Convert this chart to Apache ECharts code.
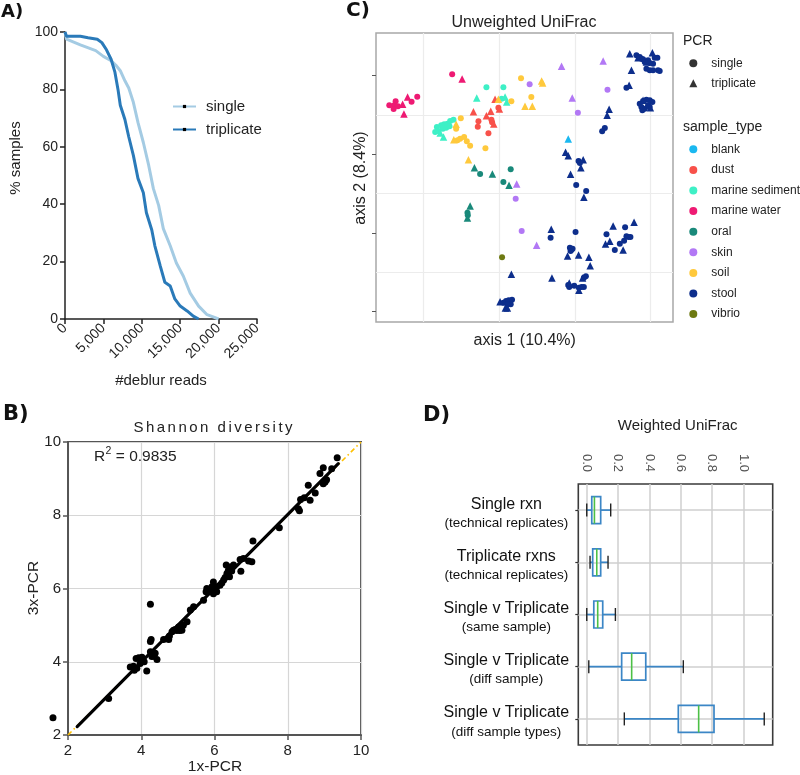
<!DOCTYPE html>
<html><head><meta charset="utf-8">
<script src="https://cdn.jsdelivr.net/npm/echarts@6/dist/echarts.min.js"></script>
<style>html,body{margin:0;padding:0;background:#fff}#c{width:800px;height:775px}</style>
</head><body><div id="c"></div>
<script>
// ---------------- Panel A: % samples vs #deblur reads ----------------
const aSingle = [[0,100],[200,97.5],[2000,95.5],[4000,93.5],[5000,91.5],[6000,90],[6600,88.5],[7200,86.5],[7800,83],[8300,80.5],[8900,75.5],[9500,68.5],[10200,61.5],[10900,53.5],[11500,45.5],[12200,39.5],[12800,31.5],[13700,25.5],[14500,19.5],[15400,15],[16300,9],[17400,4.5],[18500,1.5],[19200,0.8],[20000,0]];
const aTriplicate = [[0,100],[200,98.5],[2000,98.5],[3000,98],[4200,97.5],[4800,96.3],[5400,93.8],[6000,90.5],[6500,86],[6900,80],[7200,74.5],[7800,69.5],[8300,63.5],[8900,57],[9500,49],[10200,44],[10600,37],[11300,31],[11700,25.5],[12400,18.5],[13000,12.8],[13700,11.5],[14300,7],[15000,4.5],[15900,2.8],[16700,1],[17400,0]];
const aNames = ['single','triplicate'];

// ---------------- Panel B: Shannon diversity ----------------
const bPoints = [[1.59,2.47],[3.11,3.00],[3.70,3.86],[3.79,3.88],[3.86,4.09],[3.93,4.11],[3.97,3.95],[4.02,4.12],[3.88,3.82],[4.08,4.00],[4.15,3.75],[3.81,3.77],[3.97,4.09],[4.34,4.15],[4.29,4.14],[4.38,4.23],[4.43,4.06],[4.25,4.27],[4.25,5.57],[4.25,4.55],[4.27,4.61],[4.61,4.61],[4.75,4.61],[4.77,4.70],[4.84,4.82],[4.88,4.86],[4.93,4.88],[4.97,4.85],[5.05,4.85],[5.11,4.86],[5.02,4.95],[5.15,5.00],[5.25,5.09],[5.34,5.41],[5.43,5.50],[5.70,5.68],[5.77,5.91],[5.79,6.00],[5.84,5.91],[5.88,5.95],[5.93,6.05],[5.97,6.18],[5.97,5.86],[6.06,5.91],[6.06,6.05],[6.15,6.09],[6.20,6.15],[6.25,6.23],[6.29,6.30],[6.32,6.64],[6.38,6.50],[6.41,6.32],[6.43,6.59],[6.47,6.48],[6.52,6.64],[6.34,6.41],[6.70,6.79],[6.79,6.82],[6.93,6.75],[7.02,6.73],[6.72,6.47],[7.05,7.30],[7.77,7.66],[8.29,8.18],[8.32,8.12],[8.35,8.43],[8.45,8.48],[8.61,8.41],[8.56,8.82],[8.75,8.61],[8.97,8.86],[9.02,8.91],[9.06,8.97],[8.88,9.14],[8.97,9.30],[9.20,9.27],[9.35,9.57]];
const bFit = [[2.25,2.23],[9.38,9.41]];
const bIdentity = [[2,2],[10,10]];
const bR2 = '0.9835';

// ---------------- Panel C: Unweighted UniFrac PCoA ----------------
const cTypeNames = ['blank','dust','marine sediment','marine water','oral','skin','soil','stool','vibrio'];
const cBlankSingle = [];
const cBlankTriplicate = [[0.132,0.115]];
const cDustSingle = [[-0.138,0.168],[-0.140,0.152],[-0.108,0.132],[-0.099,0.173],[-0.097,0.165],[-0.078,0.209]];
const cDustTriplicate = [[-0.153,0.197],[-0.088,0.234],[-0.114,0.185],[-0.101,0.198],[-0.092,0.160],[-0.075,0.205]];
const cMarineSedSingle = [[-0.114,0.270],[-0.063,0.270],[-0.068,0.236],[-0.263,0.151],[-0.258,0.139],[-0.250,0.156],[-0.241,0.159],[-0.231,0.161],[-0.223,0.169],[-0.213,0.173],[-0.235,0.149],[-0.245,0.146],[-0.225,0.153],[-0.268,0.136]];
const cMarineSedTriplicate = [[-0.243,0.121],[-0.253,0.133],[-0.143,0.238],[-0.058,0.241],[-0.053,0.226]];
const cMarineWaterSingle = [[-0.406,0.216],[-0.391,0.216],[-0.387,0.228],[-0.393,0.205],[-0.380,0.213],[-0.339,0.227],[-0.322,0.242],[-0.217,0.309]];
const cMarineWaterTriplicate = [[-0.366,0.219],[-0.351,0.241],[-0.362,0.190],[-0.187,0.295]];
const cOralSingle = [[-0.133,0.010],[-0.063,-0.014],[-0.041,0.024],[-0.171,-0.106],[-0.170,-0.114]];
const cOralTriplicate = [[-0.150,0.029],[-0.096,0.010],[-0.046,-0.024],[-0.163,-0.086],[-0.171,-0.122]];
const cSkinSingle = [[0.016,0.279],[0.250,0.263],[0.161,0.194],[-0.026,-0.064],[-0.008,-0.161]];
const cSkinTriplicate = [[0.112,0.333],[0.237,0.349],[0.144,0.238],[-0.023,-0.020],[0.037,-0.204]];
const cSoilSingle = [[-0.010,0.297],[0.021,0.241],[-0.039,0.228],[-0.191,0.177],[-0.205,0.146],[-0.173,0.108],[-0.163,0.095],[-0.117,0.087],[-0.193,0.116],[-0.181,0.121],[-0.201,0.111]];
const cSoilTriplicate = [[0.052,0.289],[0.055,0.283],[0.002,0.213],[0.024,0.213],[-0.205,0.159],[-0.212,0.113],[-0.168,0.053],[-0.078,0.234]];
const cStoolSingle = [[0.337,0.366],[0.347,0.361],[0.357,0.354],[0.372,0.351],[0.377,0.343],[0.387,0.341],[0.392,0.359],[0.400,0.359],[0.367,0.326],[0.377,0.321],[0.387,0.321],[0.402,0.321],[0.407,0.319],[0.352,0.356],[0.362,0.346],[0.307,0.269],[0.347,0.221],[0.357,0.229],[0.367,0.233],[0.377,0.231],[0.385,0.226],[0.352,0.211],[0.362,0.206],[0.372,0.216],[0.377,0.211],[0.355,0.201],[0.242,0.148],[0.234,0.138],[0.163,0.049],[0.167,0.043],[0.156,-0.023],[0.186,-0.041],[0.079,-0.181],[0.154,-0.164],[0.137,-0.211],[0.142,-0.217],[0.145,-0.214],[0.139,-0.221],[0.247,-0.171],[0.303,-0.150],[0.300,-0.190],[0.287,-0.199],[0.272,-0.218],[0.307,-0.177],[0.313,-0.179],[0.319,-0.179],[0.185,-0.297],[0.179,-0.301],[0.132,-0.323],[0.135,-0.329],[0.150,-0.325],[0.164,-0.331],[0.172,-0.329],[0.179,-0.329],[-0.063,-0.376],[-0.055,-0.371],[-0.047,-0.369],[-0.037,-0.367],[-0.041,-0.381],[-0.051,-0.381]];
const cStoolTriplicate = [[0.317,0.371],[0.385,0.374],[0.322,0.321],[0.342,0.359],[0.367,0.346],[0.315,0.276],[0.379,0.209],[0.357,0.231],[0.255,0.204],[0.249,0.186],[0.124,0.075],[0.132,0.065],[0.139,0.009],[0.177,0.053],[0.170,0.029],[0.179,-0.060],[0.081,-0.156],[0.130,-0.236],[0.163,-0.233],[0.194,-0.240],[0.198,-0.265],[0.267,-0.146],[0.330,-0.135],[0.257,-0.192],[0.244,-0.200],[0.297,-0.218],[-0.039,-0.291],[0.083,-0.302],[0.175,-0.302],[0.135,-0.317],[0.164,-0.339],[-0.073,-0.373],[-0.057,-0.392],[-0.051,-0.392]];
const cVibrioSingle = [[-0.067,-0.240]];
const cVibrioTriplicate = [];
const cPcrNames = ['single','triplicate'];

// ---------------- Panel D: Weighted UniFrac boxplots ----------------
const dLabels = ['Single rxn\n(technical replicates)','Triplicate rxns\n(technical replicates)','Single v Triplicate\n(same sample)','Single v Triplicate\n(diff sample)','Single v Triplicate\n(diff sample types)'];
const dLow    = [0.000, 0.021, 0.000, 0.013, 0.240];
const dQ1     = [0.032, 0.038, 0.045, 0.223, 0.585];
const dMedian = [0.049, 0.064, 0.070, 0.287, 0.715];
const dQ3     = [0.089, 0.089, 0.102, 0.377, 0.813];
const dHigh   = [0.153, 0.136, 0.183, 0.617, 1.134];

// ---------------- styles ----------------
const FONT = '"Liberation Sans", Arial, sans-serif';
const aColors = ['#a4cbe3', '#2a7ab9'];
const cColors = {'blank':'#1ab8f0','dust':'#f8514a','marine sediment':'#3ef0c6','marine water':'#ee1a73','oral':'#19897a','skin':'#b278f5','soil':'#ffc93c','stool':'#0d2e8c','vibrio':'#6e7a12'};
const cSets = [
  ['blank', cBlankSingle, cBlankTriplicate],
  ['dust', cDustSingle, cDustTriplicate],
  ['marine sediment', cMarineSedSingle, cMarineSedTriplicate],
  ['marine water', cMarineWaterSingle, cMarineWaterTriplicate],
  ['oral', cOralSingle, cOralTriplicate],
  ['skin', cSkinSingle, cSkinTriplicate],
  ['soil', cSoilSingle, cSoilTriplicate],
  ['stool', cStoolSingle, cStoolTriplicate],
  ['vibrio', cVibrioSingle, cVibrioTriplicate]
];
const boxBlue = '#3b86c6', medGreen = '#4cc046';

function fmtThousands(v){ return String(v).replace(/\B(?=(\d{3})+(?!\d))/g, ','); }
function txt(text, x, y, font, opts){
  opts = opts || {};
  return {type:'text', x:x, y:y, rotation: opts.rot || 0, z: 10,
    style:{text:text, x:0, y:0, font:font, fill: opts.fill || '#222',
      align: opts.align || 'center', textAlign: opts.align || 'center',
      verticalAlign:'middle', textVerticalAlign:'middle'}};
}
const spaced = 'Shannon diversity'.split('').join('\u2006');

const hidden = {show:false};
const option = {
  animation:false,
  backgroundColor:'#fff',
  textStyle:{fontFamily:FONT},
  grid:[
    {left:65, top:32, width:192, height:287},                 // 0 A
    {left:68, top:442, width:293, height:293, show:true, borderColor:'#555', borderWidth:2}, // 1 B
    {left:376, top:33, width:297, height:289, show:true, borderColor:'#a8a8a8', borderWidth:1.5}, // 2 C
    {left:423.3, top:33, width:227.4, height:289},             // 3 C vertical grid lines
    {left:376, top:115, width:297, height:157.3},              // 4 C horizontal grid lines
    {left:376, top:75, width:297, height:236.7},               // 5 C y ticks
    {left:578.3, top:484, width:194.4, height:261, show:true, borderColor:'#3a3a3a', borderWidth:1.6}, // 6 D
    {left:586.7, top:484, width:156.6, height:261},            // 7 D x ticks / vertical lines
    {left:578.3, top:510.1, width:194.4, height:208.8}         // 8 D horizontal lines / y ticks
  ],
  xAxis:[
    {gridIndex:0, type:'value', min:0, max:25000, interval:5000,
      axisLine:{lineStyle:{color:'#222', width:1.5}}, axisTick:{length:5, lineStyle:{color:'#222', width:1.5}},
      axisLabel:{rotate:45, fontSize:14, color:'#222', margin:7, formatter:fmtThousands}, splitLine:{show:false}},
    {gridIndex:1, type:'value', min:2, max:10, interval:2,
      axisLine:{lineStyle:{color:'#555', width:2}}, axisTick:{length:5, lineStyle:{color:'#555', width:1.5}},
      axisLabel:{fontSize:15, color:'#222', margin:8}, splitLine:{lineStyle:{color:'#d6d6d6', width:1.2}}},
    {gridIndex:2, type:'value', min:-0.446, max:0.447, show:false},
    {gridIndex:3, type:'value', min:0, max:3, interval:1, axisLine:hidden, axisTick:hidden, axisLabel:hidden,
      splitLine:{show:true, lineStyle:{color:'#ececec', width:1.2}}},
    {gridIndex:4, type:'value', show:false},
    {gridIndex:5, type:'value', show:false},
    {gridIndex:6, type:'value', min:-0.054, max:1.188, show:false},
    {gridIndex:7, type:'value', position:'top', min:0, max:1, interval:0.2, axisLine:hidden, axisTick:hidden,
      axisLabel:{rotate:-90, fontSize:13, color:'#555', margin:12, formatter:function(v){return v.toFixed(1);}},
      splitLine:{show:true, lineStyle:{color:'#cfcfcf', width:1.5}}},
    {gridIndex:8, type:'value', show:false}
  ],
  yAxis:[
    {gridIndex:0, type:'value', min:0, max:100, interval:20,
      axisLine:{show:true, lineStyle:{color:'#222', width:1.5}}, axisTick:{show:true, length:5, lineStyle:{color:'#222', width:1.5}},
      axisLabel:{fontSize:14, color:'#222', margin:7}, splitLine:{show:false}},
    {gridIndex:1, type:'value', min:2, max:10, interval:2,
      axisLine:{show:true, lineStyle:{color:'#555', width:2}}, axisTick:{show:true, length:5, lineStyle:{color:'#555', width:1.5}},
      axisLabel:{fontSize:15, color:'#222', margin:7}, splitLine:{lineStyle:{color:'#d6d6d6', width:1.2}}},
    {gridIndex:2, type:'value', min:-0.434, max:0.433, show:false},
    {gridIndex:3, type:'value', show:false},
    {gridIndex:4, type:'value', min:0, max:2, interval:1, axisLine:hidden, axisTick:hidden, axisLabel:hidden,
      splitLine:{show:true, lineStyle:{color:'#ececec', width:1.2}}},
    {gridIndex:5, type:'value', min:0, max:3, interval:1, axisLine:hidden, axisLabel:hidden, splitLine:hidden,
      axisTick:{show:true, length:4, lineStyle:{color:'#555', width:1}}},
    {gridIndex:6, type:'category', inverse:true, data:dLabels, axisLine:hidden, axisTick:hidden, splitLine:hidden,
      axisLabel:{align:'center', margin:72, padding:[7,0,0,0],
        formatter:function(v){ const p = v.split('\n'); return '{a|' + p[0] + '}\n{b|' + p[1] + '}'; },
        rich:{a:{fontSize:16, lineHeight:19, color:'#111', fontFamily:FONT, align:'center'},
              b:{fontSize:13.5, lineHeight:19, color:'#111', fontFamily:FONT, align:'center'}}}},
    {gridIndex:7, type:'value', show:false},
    {gridIndex:8, type:'value', min:0, max:4, interval:1, axisLine:hidden, axisLabel:hidden,
      axisTick:{show:true, length:3, lineStyle:{color:'#333', width:1.2}},
      splitLine:{show:true, lineStyle:{color:'#cfcfcf', width:1.5}}}
  ],
  legend:[
    {left:172, top:98, padding:0, orient:'vertical', itemWidth:23, itemHeight:4, itemGap:6, data:aNames,
      itemStyle:{color:'#000', borderWidth:0},
      textStyle:{fontSize:15, lineHeight:17, color:'#222', fontFamily:FONT, padding:[0,0,0,5]}},
    {left:689.3, top:56.3, padding:0, orient:'vertical', itemWidth:8, itemHeight:8, itemGap:6,
      data:[{name:'PCR single', icon:'circle'},{name:'PCR triplicate', icon:'triangle'}],
      formatter:function(n){return n.replace('PCR ','');},
      textStyle:{fontSize:12, lineHeight:14, color:'#222', fontFamily:FONT, padding:[0,0,0,9]}},
    {left:689.3, top:142.3, padding:0, orient:'vertical', itemWidth:8, itemHeight:8, itemGap:6.6,
      data:cTypeNames.map(function(n){return {name:n, icon:'circle'};}),
      textStyle:{fontSize:12, lineHeight:14, color:'#222', fontFamily:FONT, padding:[0,0,0,9]}}
  ],
  series:[],
  graphic:[
    txt('A)', 1, 12, 'bold 18px "DejaVu Sans"', {align:'left', fill:'#111'}),
    txt('B)', 3, 415, 'bold 21px "DejaVu Sans"', {align:'left', fill:'#111'}),
    txt('C)', 346, 11, 'bold 20px "DejaVu Sans"', {align:'left', fill:'#111'}),
    txt('D)', 423, 416, 'bold 21px "DejaVu Sans"', {align:'left', fill:'#111'}),
    txt('% samples', 15.5, 158, '15px ' + FONT, {rot:Math.PI/2}),
    txt('#deblur reads', 161, 381, '15px ' + FONT),
    txt(spaced, 213, 427.7, '15px ' + FONT),
    txt('R', 94, 457, '15.5px ' + FONT, {align:'left'}),
    txt('2', 105.5, 451.5, '10.5px ' + FONT, {align:'left'}),
    txt(' = ' + bR2, 111.5, 457, '15.5px ' + FONT, {align:'left'}),
    txt('3x-PCR', 34, 588, '15.5px ' + FONT, {rot:Math.PI/2}),
    txt('1x-PCR', 215, 767, '15.5px ' + FONT),
    txt('Unweighted UniFrac', 524, 22.7, '16px ' + FONT),
    txt('axis 1 (10.4%)', 524.7, 341, '16px ' + FONT),
    txt('axis 2 (8.4%)', 361, 178, '16px ' + FONT, {rot:Math.PI/2}),
    txt('PCR', 683, 41, '14px ' + FONT, {align:'left'}),
    txt('sample_type', 683, 126.7, '14px ' + FONT, {align:'left'}),
    txt('Weighted UniFrac', 677.7, 426, '15px ' + FONT)
  ]
};

// Panel A series
[aSingle, aTriplicate].forEach(function(d, i){
  option.series.push({type:'line', name:aNames[i], xAxisIndex:0, yAxisIndex:0, data:d,
    symbol:'rect', symbolSize:3, showSymbol:false, lineStyle:{width:3, color:aColors[i]},
    itemStyle:{color:aColors[i]}, z:3});
});
// Panel B series
option.series.push({type:'line', name:'identity', xAxisIndex:1, yAxisIndex:1, data:bIdentity, symbol:'none',
  lineStyle:{color:'#ffc000', width:1.6, type:[5,3,1.5,3]}, z:1, silent:true});
option.series.push({type:'scatter', name:'shannon', xAxisIndex:1, yAxisIndex:1, data:bPoints, symbolSize:7,
  itemStyle:{color:'#000', opacity:1}, clip:false, z:2});
option.series.push({type:'line', name:'fit', xAxisIndex:1, yAxisIndex:1, data:bFit, symbol:'none',
  lineStyle:{color:'#000', width:3.2, cap:'round'}, z:3, silent:true});
// Panel C series
cSets.forEach(function(s){
  const data = s[1].map(function(p){return {value:p};})
    .concat(s[2].map(function(p){return {value:p, symbol:'triangle', symbolSize:7.5};}));
  option.series.push({type:'scatter', name:s[0], xAxisIndex:2, yAxisIndex:2, data:data,
    symbol:'circle', symbolSize:6, itemStyle:{color:cColors[s[0]], opacity:1}, z:2});
});
cPcrNames.forEach(function(n){
  option.series.push({type:'scatter', name:'PCR ' + n, xAxisIndex:2, yAxisIndex:2, data:[],
    symbol: n === 'single' ? 'circle' : 'triangle', itemStyle:{color:'#000'}});
});
// Panel D series
option.series.push({type:'custom', name:'weighted', xAxisIndex:6, yAxisIndex:6,
  data: dLabels.map(function(_, i){ return [i, dLow[i], dQ1[i], dMedian[i], dQ3[i], dHigh[i]]; }),
  encode:{x:[1,2,3,4,5], y:0}, z:3,
  renderItem:function(params, api){
    const i = api.value(0);
    const lo = api.coord([api.value(1), i]);
    const q1 = api.coord([api.value(2), i]);
    const md = api.coord([api.value(3), i]);
    const q3 = api.coord([api.value(4), i]);
    const hi = api.coord([api.value(5), i]);
    const y = lo[1], bh = 27, ch = 13;
    const wl = {stroke:boxBlue, lineWidth:1.7};
    const cl = {stroke:'#222', lineWidth:1.4};
    return {type:'group', children:[
      {type:'line', shape:{x1:lo[0], y1:y, x2:q1[0], y2:y}, style:wl},
      {type:'line', shape:{x1:q3[0], y1:y, x2:hi[0], y2:y}, style:wl},
      {type:'line', shape:{x1:lo[0], y1:y-ch/2, x2:lo[0], y2:y+ch/2}, style:cl},
      {type:'line', shape:{x1:hi[0], y1:y-ch/2, x2:hi[0], y2:y+ch/2}, style:cl},
      {type:'rect', shape:{x:q1[0], y:y-bh/2, width:q3[0]-q1[0], height:bh}, style:{fill:'none', stroke:boxBlue, lineWidth:1.7}},
      {type:'line', shape:{x1:md[0], y1:y-bh/2, x2:md[0], y2:y+bh/2}, style:{stroke:medGreen, lineWidth:1.6}}
    ]};
  }
});

const chart = echarts.init(document.getElementById('c'), null, {renderer:'canvas'});
chart.setOption(option);
</script>
</body></html>
